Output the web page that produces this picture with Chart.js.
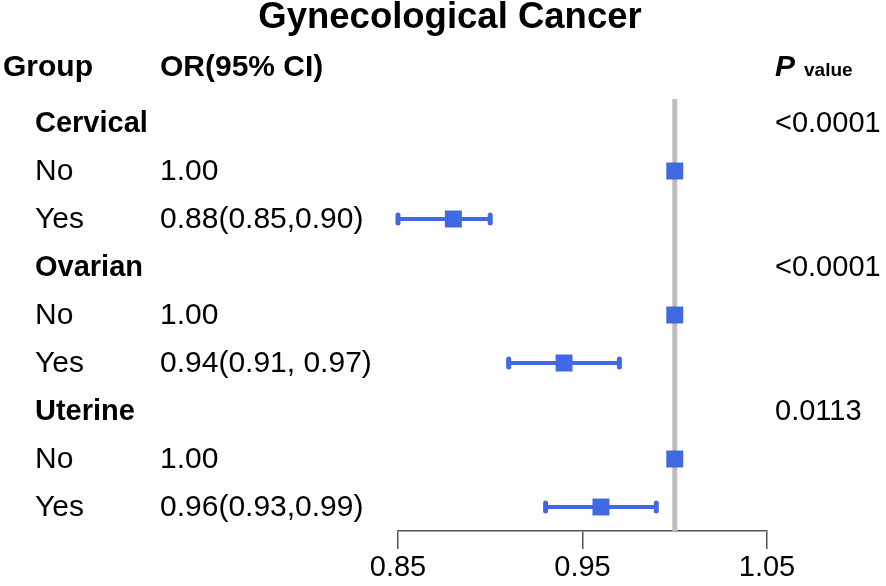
<!DOCTYPE html>
<html>
<head>
<meta charset="utf-8">
<title>Gynecological Cancer</title>
<script src="https://cdn.jsdelivr.net/npm/chart.js@4.4.1/dist/chart.umd.min.js"></script>
<style>
  html, body { margin: 0; padding: 0; background: #fff; }
  #wrap { width: 886px; height: 586px; }
</style>
</head>
<body>
<div id="wrap"><canvas id="forest" width="886" height="586"></canvas></div>
<script>
// rows, top to bottom
const rowLabels = ['Cervical', 'No', 'Yes', 'Ovarian', 'No', 'Yes', 'Uterine', 'No', 'Yes'];
const rowIsGroup = [true, false, false, true, false, false, true, false, false];
const orText = ['', '1.00', '0.88(0.85,0.90)', '', '1.00', '0.94(0.91, 0.97)', '', '1.00', '0.96(0.93,0.99)'];
const pValues = ['<0.0001', '', '', '<0.0001', '', '', '0.0113', '', ''];
const orValue = [null, 1.00, 0.88, null, 1.00, 0.94, null, 1.00, 0.96];
const ciLow = [null, null, 0.85, null, null, 0.91, null, null, 0.93];
const ciHigh = [null, null, 0.90, null, null, 0.97, null, null, 0.99];
const xTicks = [0.85, 0.95, 1.05];
const refValue = 1.00;

const FONT = '"Liberation Sans", Arial, Helvetica, sans-serif';
const BLUE = '#4169E1';

const points = [];
orValue.forEach((v, i) => {
    if (v !== null) points.push({ x: v, y: i });
});

// draws the reference line, the CI whiskers and all the table text
const forestPlugin = {
    id: 'forest',
    beforeDatasetsDraw(chart) {
        const ctx = chart.ctx;
        const x = chart.scales.x;
        const y = chart.scales.y;
        const area = chart.chartArea;

        ctx.save();
        ctx.strokeStyle = '#BEBEBE';
        ctx.lineWidth = 5;
        const rx = x.getPixelForValue(refValue);
        ctx.beginPath();
        ctx.moveTo(rx, area.top);
        ctx.lineTo(rx, area.bottom);
        ctx.stroke();

        ctx.strokeStyle = BLUE;
        ctx.lineCap = 'round';
        ciLow.forEach((lo, i) => {
            if (lo === null) return;
            const py = y.getPixelForValue(i);
            const x1 = x.getPixelForValue(lo);
            const x2 = x.getPixelForValue(ciHigh[i]);
            ctx.lineWidth = 4;
            ctx.beginPath();
            ctx.moveTo(x1, py);
            ctx.lineTo(x2, py);
            ctx.stroke();
            ctx.lineWidth = 5;
            ctx.beginPath();
            ctx.moveTo(x1, py - 4);
            ctx.lineTo(x1, py + 4);
            ctx.moveTo(x2, py - 4);
            ctx.lineTo(x2, py + 4);
            ctx.stroke();
        });
        ctx.restore();
    },
    afterDraw(chart) {
        const ctx = chart.ctx;
        const y = chart.scales.y;

        ctx.save();
        ctx.fillStyle = '#000';
        ctx.textBaseline = 'middle';

        ctx.textAlign = 'center';
        ctx.font = 'bold 36.5px ' + FONT;
        ctx.fillText('Gynecological Cancer', 450, 18);

        ctx.textAlign = 'left';
        ctx.font = 'bold 30px ' + FONT;
        ctx.fillText('Group', 3, 68);
        ctx.fillText('OR(95% CI)', 160, 68);
        ctx.font = 'italic bold 30px ' + FONT;
        ctx.fillText('P', 775, 68);
        const pw = ctx.measureText('P').width;
        ctx.font = 'bold 19px ' + FONT;
        ctx.fillText('value', 775 + pw + 9, 71);

        rowLabels.forEach((label, i) => {
            const py = y.getPixelForValue(i) + 1;
            ctx.font = rowIsGroup[i] ? 'bold 29px ' + FONT : '30px ' + FONT;
            ctx.fillText(label, 35, py);
            ctx.font = '30px ' + FONT;
            if (orText[i]) ctx.fillText(orText[i], 160, py);
            ctx.font = '29px ' + FONT;
            if (pValues[i]) ctx.fillText(pValues[i], 775, py);
        });
        ctx.restore();
    }
};

new Chart(document.getElementById('forest'), {
    type: 'scatter',
    data: {
        datasets: [{
            data: points,
            pointStyle: 'rect',
            radius: 12,
            hoverRadius: 12,
            backgroundColor: BLUE,
            borderColor: BLUE,
            borderWidth: 0
        }]
    },
    options: {
        responsive: false,
        animation: false,
        devicePixelRatio: 1,
        layout: { padding: { left: 398, right: 119, top: 99, bottom: 0 } },
        plugins: {
            legend: { display: false },
            tooltip: { enabled: false },
            title: { display: false }
        },
        scales: {
            x: {
                type: 'linear',
                min: xTicks[0],
                max: xTicks[xTicks.length - 1],
                afterBuildTicks(scale) {
                    scale.ticks = xTicks.map(v => ({ value: v }));
                },
                ticks: {
                    callback: v => Number(v).toFixed(2),
                    font: { family: FONT, size: 29, lineHeight: 1.0 },
                    color: '#000',
                    padding: 4,
                    maxRotation: 0
                },
                grid: {
                    drawOnChartArea: false,
                    drawTicks: true,
                    tickLength: 18,
                    color: '#555',
                    lineWidth: 1.5
                },
                border: { display: true, color: '#555', width: 1.5 }
            },
            y: {
                type: 'linear',
                reverse: true,
                min: -0.5,
                max: rowLabels.length - 0.5,
                display: false
            }
        }
    },
    plugins: [forestPlugin]
});
</script>
</body>
</html>
